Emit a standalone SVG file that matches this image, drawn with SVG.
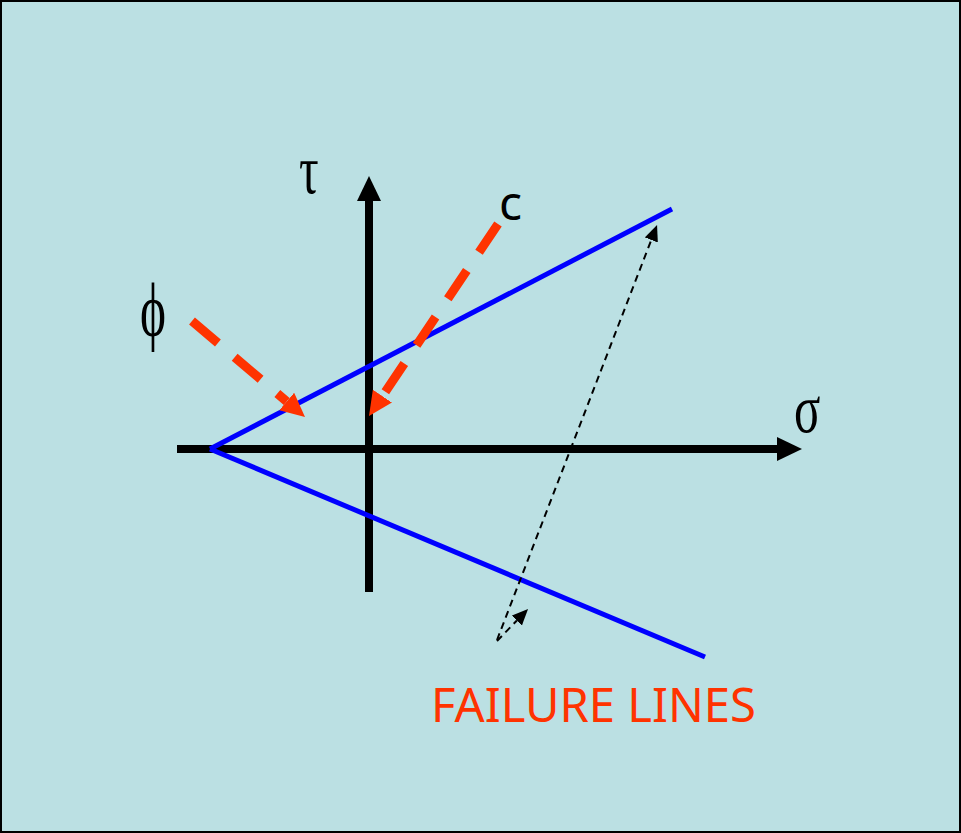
<svg xmlns="http://www.w3.org/2000/svg" width="961" height="833" viewBox="0 0 961 833">
<style>
.axis{stroke:#000;stroke-width:8;fill:none}
.fail{stroke:#0000FF;stroke-width:5;fill:none}
.od{stroke:#FF3300;stroke-width:9;fill:none;stroke-dasharray:34 22}
.kd{stroke:#000;stroke-width:2;fill:none;stroke-dasharray:7 5}
.greek{font-family:"Liberation Serif","DejaVu Serif",serif;fill:#000}
.lbl{font-family:"Noto Sans","DejaVu Sans",sans-serif;font-size:48px}
</style>
<defs>
<marker id="ah" markerUnits="userSpaceOnUse" markerWidth="30" markerHeight="30" refX="0" refY="12" orient="auto" viewBox="0 0 30 30"><path d="M0,0 L25,12 L0,24 z" fill="#000"/></marker>
<marker id="oh" markerUnits="userSpaceOnUse" markerWidth="30" markerHeight="30" refX="0" refY="11.5" orient="auto" viewBox="0 0 30 30"><path d="M0,0 L24,11.5 L0,23 z" fill="#FF3300"/></marker>
<marker id="kh" markerUnits="userSpaceOnUse" markerWidth="20" markerHeight="20" refX="0" refY="7" orient="auto" viewBox="0 0 20 20"><path d="M0,0 L16,7 L0,14 z" fill="#000"/></marker>
</defs>
<rect x="1" y="1" width="959" height="831" fill="#BBE0E3" stroke="#000" stroke-width="2"/>
<g id="connectors">
<line class="axis" x1="177" y1="449" x2="777" y2="449" marker-end="url(#ah)"/>
<line class="axis" x1="369" y1="592" x2="369" y2="201" marker-end="url(#ah)"/>
<line class="fail" x1="210" y1="449" x2="672" y2="209"/>
<line class="fail" x1="210" y1="449" x2="705" y2="657"/>
<line class="od" x1="192" y1="321" x2="286.7" y2="401.5" marker-end="url(#oh)"/>
<line class="od" x1="498" y1="224" x2="382.4" y2="396.1" marker-end="url(#oh)"/>
<line class="kd" x1="497" y1="640" x2="651.3" y2="239.9" marker-end="url(#kh)"/>
<line class="kd" x1="497" y1="641" x2="516.9" y2="620.5" marker-end="url(#kh)"/>
</g>
<g id="tau"><text class="greek" transform="translate(299,193) scale(0.7,1)" font-size="70">τ</text></g>
<g id="sigma"><text class="greek" transform="translate(794,432) scale(0.7,1)" font-size="70">σ</text></g>
<g id="phi"><text class="greek" transform="translate(140,336) scale(0.65,1)" font-size="76">ϕ</text></g>
<g id="c"><text class="lbl" x="499" y="220" fill="#000">c</text></g>
<g id="failure-lines"><text class="lbl" x="431" y="722" fill="#FF3300" textLength="325" lengthAdjust="spacingAndGlyphs">FAILURE LINES</text></g>
</svg>
